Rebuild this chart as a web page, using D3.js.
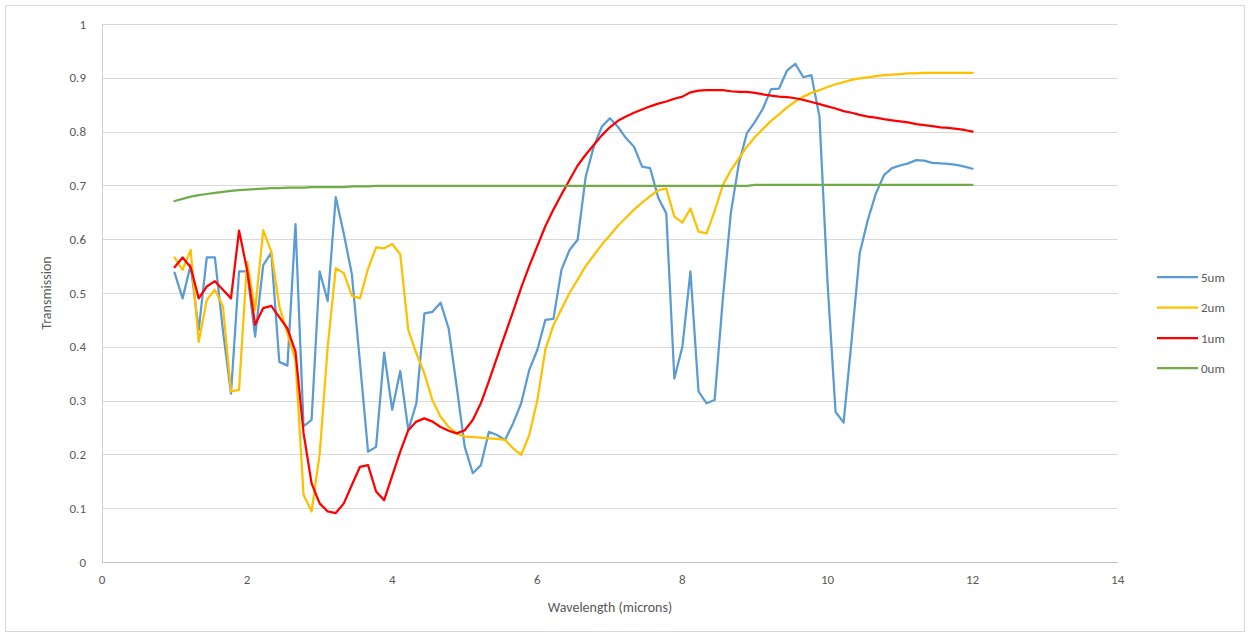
<!DOCTYPE html>
<html>
<head>
<meta charset="utf-8">
<script src="https://cdn.jsdelivr.net/npm/d3@7"></script>
<style>
  html, body { margin: 0; padding: 0; background: #ffffff; }
  svg { display: block; }
  text { font-family: Carlito, Calibri, Lato, "Open Sans", sans-serif; fill: #595959; }
</style>
</head>
<body>
<svg id="chart" width="1251" height="638"></svg>
<script>
// Wavelengths (microns)
const wavelengths = [
  1.000, 1.111, 1.222, 1.333, 1.444, 1.556, 1.667, 1.778, 1.889, 2.000,
  2.111, 2.222, 2.333, 2.444, 2.556, 2.667, 2.778, 2.889, 3.000, 3.111,
  3.222, 3.333, 3.444, 3.556, 3.667, 3.778, 3.889, 4.000, 4.111, 4.222,
  4.333, 4.444, 4.556, 4.667, 4.778, 4.889, 5.000, 5.111, 5.222, 5.333,
  5.444, 5.556, 5.667, 5.778, 5.889, 6.000, 6.111, 6.222, 6.333, 6.444,
  6.556, 6.667, 6.778, 6.889, 7.000, 7.111, 7.222, 7.333, 7.444, 7.556,
  7.667, 7.778, 7.889, 8.000, 8.111, 8.222, 8.333, 8.444, 8.556, 8.667,
  8.778, 8.889, 9.000, 9.111, 9.222, 9.333, 9.444, 9.556, 9.667, 9.778,
  9.889, 10.000, 10.111, 10.222, 10.333, 10.444, 10.556, 10.667, 10.778, 10.889,
  11.000, 11.111, 11.222, 11.333, 11.444, 11.556, 11.667, 11.778, 11.889, 12.000
];

const t5um = [
  0.538, 0.490, 0.552, 0.431, 0.566, 0.566, 0.430, 0.313, 0.540, 0.540,
  0.419, 0.552, 0.575, 0.372, 0.365, 0.628, 0.252, 0.264, 0.540, 0.485,
  0.678, 0.610, 0.535, 0.370, 0.205, 0.214, 0.389, 0.283, 0.355, 0.245,
  0.295, 0.462, 0.465, 0.482, 0.434, 0.326, 0.214, 0.165, 0.180, 0.242,
  0.236, 0.227, 0.258, 0.295, 0.357, 0.394, 0.450, 0.452, 0.543, 0.580,
  0.599, 0.716, 0.772, 0.809, 0.825, 0.809, 0.788, 0.772, 0.735, 0.732,
  0.677, 0.648, 0.341, 0.400, 0.540, 0.317, 0.295, 0.301, 0.487, 0.648,
  0.741, 0.797, 0.818, 0.843, 0.879, 0.880, 0.914, 0.926, 0.901, 0.905,
  0.828, 0.520, 0.279, 0.259, 0.413, 0.574, 0.636, 0.685, 0.719, 0.732,
  0.737, 0.741, 0.747, 0.746, 0.742, 0.741, 0.740, 0.738, 0.735, 0.731
];

const t2um = [
  0.566, 0.543, 0.580, 0.409, 0.487, 0.506, 0.475, 0.317, 0.320, 0.558,
  0.468, 0.617, 0.577, 0.475, 0.425, 0.375, 0.125, 0.094, 0.200, 0.400,
  0.546, 0.537, 0.495, 0.490, 0.545, 0.585, 0.583, 0.591, 0.572, 0.431,
  0.388, 0.350, 0.300, 0.270, 0.251, 0.239, 0.233, 0.232, 0.231, 0.230,
  0.229, 0.227, 0.211, 0.199, 0.236, 0.300, 0.395, 0.440, 0.470, 0.500,
  0.525, 0.550, 0.570, 0.590, 0.607, 0.625, 0.640, 0.655, 0.668, 0.680,
  0.691, 0.694, 0.642, 0.631, 0.657, 0.614, 0.611, 0.652, 0.700, 0.728,
  0.750, 0.772, 0.790, 0.805, 0.820, 0.832, 0.845, 0.856, 0.865, 0.872,
  0.877, 0.883, 0.888, 0.892, 0.896, 0.899, 0.901, 0.903, 0.905, 0.906,
  0.907, 0.908, 0.908, 0.909, 0.909, 0.909, 0.909, 0.909, 0.909, 0.909
];

const t1um = [
  0.548, 0.566, 0.548, 0.490, 0.512, 0.522, 0.506, 0.490, 0.616, 0.543,
  0.441, 0.472, 0.476, 0.455, 0.434, 0.391, 0.240, 0.146, 0.109, 0.094,
  0.091, 0.109, 0.143, 0.177, 0.180, 0.131, 0.115, 0.160, 0.205, 0.245,
  0.261, 0.267, 0.261, 0.251, 0.244, 0.239, 0.245, 0.264, 0.295, 0.336,
  0.380, 0.423, 0.466, 0.510, 0.550, 0.587, 0.624, 0.655, 0.683, 0.710,
  0.737, 0.757, 0.775, 0.793, 0.808, 0.820, 0.828, 0.835, 0.841, 0.847,
  0.852, 0.856, 0.861, 0.865, 0.873, 0.876, 0.877, 0.877, 0.877, 0.875,
  0.874, 0.874, 0.872, 0.869, 0.867, 0.865, 0.864, 0.862, 0.859, 0.855,
  0.851, 0.847, 0.843, 0.838, 0.835, 0.831, 0.828, 0.826, 0.823, 0.821,
  0.819, 0.817, 0.814, 0.812, 0.810, 0.808, 0.807, 0.805, 0.803, 0.800
];

const t0um = [
  0.671, 0.675, 0.679, 0.682, 0.684, 0.686, 0.688, 0.690, 0.691, 0.692,
  0.693, 0.694, 0.695, 0.695, 0.696, 0.696, 0.696, 0.697, 0.697, 0.697,
  0.697, 0.697, 0.698, 0.698, 0.698, 0.699, 0.699, 0.699, 0.699, 0.699,
  0.699, 0.699, 0.699, 0.699, 0.699, 0.699, 0.699, 0.699, 0.699, 0.699,
  0.699, 0.699, 0.699, 0.699, 0.699, 0.699, 0.699, 0.699, 0.699, 0.699,
  0.699, 0.699, 0.699, 0.699, 0.699, 0.699, 0.699, 0.699, 0.699, 0.699,
  0.699, 0.699, 0.699, 0.699, 0.699, 0.699, 0.699, 0.699, 0.699, 0.699,
  0.699, 0.699, 0.701, 0.701, 0.701, 0.701, 0.701, 0.701, 0.701, 0.701,
  0.701, 0.701, 0.701, 0.701, 0.701, 0.701, 0.701, 0.701, 0.701, 0.701,
  0.701, 0.701, 0.701, 0.701, 0.701, 0.701, 0.701, 0.701, 0.701, 0.701
];

const seriesNames = ["5um", "2um", "1um", "0um"];
const seriesValues = [t5um, t2um, t1um, t0um];
const seriesColors = ["#5b9bd5", "#ffc000", "#ff0000", "#70ad47"];

const xTicks = [0, 2, 4, 6, 8, 10, 12, 14];
const yTicks = [0, 0.1, 0.2, 0.3, 0.4, 0.5, 0.6, 0.7, 0.8, 0.9, 1];
const yTickLabels = ["0", "0.1", "0.2", "0.3", "0.4", "0.5", "0.6", "0.7", "0.8", "0.9", "1"];

const svg = d3.select("#chart");

// outer border
svg.append("rect")
  .attr("x", 5.5).attr("y", 5.5).attr("width", 1239).attr("height", 626)
  .attr("fill", "#ffffff").attr("stroke", "#d9d9d9").attr("stroke-width", 1);

const x = d3.scaleLinear().domain([0, 14]).range([102, 1117.7]);
const y = d3.scaleLinear().domain([0, 1]).range([562, 24]);

// gridlines
svg.append("g").selectAll("line").data(yTicks.slice(1)).join("line")
  .attr("x1", x(0)).attr("x2", x(14))
  .attr("y1", d => Math.round(y(d)) + 0.5).attr("y2", d => Math.round(y(d)) + 0.5)
  .attr("stroke", "#d9d9d9").attr("stroke-width", 1);

// axes lines
svg.append("line")
  .attr("x1", x(0)).attr("x2", x(14))
  .attr("y1", Math.round(y(0)) + 0.5).attr("y2", Math.round(y(0)) + 0.5)
  .attr("stroke", "#bfbfbf").attr("stroke-width", 1);
svg.append("line")
  .attr("x1", Math.round(x(0)) + 0.5).attr("x2", Math.round(x(0)) + 0.5)
  .attr("y1", y(1)).attr("y2", y(0))
  .attr("stroke", "#d0d0d0").attr("stroke-width", 1);

// y tick labels
svg.append("g").selectAll("text").data(yTicks).join("text")
  .attr("x", 86).attr("y", d => y(d))
  .attr("dy", "0.35em")
  .attr("text-anchor", "end")
  .style("font-size", "13px")
  .text((d, i) => yTickLabels[i]);

// x tick labels
svg.append("g").selectAll("text").data(xTicks).join("text")
  .attr("x", d => x(d)).attr("y", 584)
  .attr("text-anchor", "middle")
  .style("font-size", "13px")
  .text(d => d);

// axis titles
svg.append("text")
  .attr("x", 610).attr("y", 612)
  .attr("text-anchor", "middle")
  .style("font-size", "14px")
  .text("Wavelength (microns)");

svg.append("text")
  .attr("transform", "translate(51,293) rotate(-90)")
  .attr("text-anchor", "middle")
  .style("font-size", "14px")
  .text("Transmission");

// lines
const line = d3.line()
  .x((d, i) => x(wavelengths[i]))
  .y(d => y(d));

const g = svg.append("g");
seriesValues.forEach((vals, k) => {
  g.append("path")
    .datum(vals)
    .attr("d", line)
    .attr("fill", "none")
    .attr("stroke", seriesColors[k])
    .attr("stroke-width", 2.25)
    .attr("stroke-linejoin", "round")
    .attr("stroke-linecap", "round");
});

// legend
const legendY = [277, 307.5, 338, 368];
const lg = svg.append("g");
seriesNames.forEach((name, k) => {
  lg.append("line")
    .attr("x1", 1157).attr("x2", 1198)
    .attr("y1", legendY[k]).attr("y2", legendY[k])
    .attr("stroke", seriesColors[k]).attr("stroke-width", 2.25);
  lg.append("text")
    .attr("x", 1201).attr("y", legendY[k])
    .attr("dy", "0.35em")
    .style("font-size", "13px")
    .text(name);
});
</script>
</body>
</html>
